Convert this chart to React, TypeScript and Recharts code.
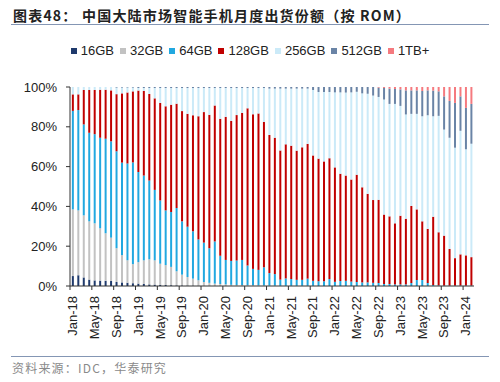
import React from 'react';
import { BarChart, Bar, XAxis, YAxis, Legend } from 'recharts';

const months = [
  'Jan-18','Feb-18','Mar-18','Apr-18','May-18','Jun-18','Jul-18','Aug-18','Sep-18','Oct-18','Nov-18','Dec-18',
  'Jan-19','Feb-19','Mar-19','Apr-19','May-19','Jun-19','Jul-19','Aug-19','Sep-19','Oct-19','Nov-19','Dec-19',
  'Jan-20','Feb-20','Mar-20','Apr-20','May-20','Jun-20','Jul-20','Aug-20','Sep-20','Oct-20','Nov-20','Dec-20',
  'Jan-21','Feb-21','Mar-21','Apr-21','May-21','Jun-21','Jul-21','Aug-21','Sep-21','Oct-21','Nov-21','Dec-21',
  'Jan-22','Feb-22','Mar-22','Apr-22','May-22','Jun-22','Jul-22','Aug-22','Sep-22','Oct-22','Nov-22','Dec-22',
  'Jan-23','Feb-23','Mar-23','Apr-23','May-23','Jun-23','Jul-23','Aug-23','Sep-23','Oct-23','Nov-23','Dec-23',
  'Jan-24','Feb-24',
];

const gb16 = [
  5.0,5.4,4.3,3.2,2.8,2.7,2.6,2.5,2.0,1.8,1.6,1.4,
  1.2,1.0,0.8,0.7,0.6,0.5,0.4,0.3,0.3,0.2,0.2,0.1,
  0.1,0.1,0,0,0,0,0,0,0,0,0,0,
  0,0,0,0,0,0,0,0,0,0,0,0,
  0,0,0,0,0,0,0,0,0,0,0,0,
  0,0,0,0,0,0,0,0,0,0,0,0,
  0,0,
];
const gb32 = [
  33.5,32.6,31.2,29.3,28.7,26.3,23.9,21.8,17.0,13.7,11.4,9.6,
  10.8,11.9,12.6,12.2,10.6,10.0,9.2,7.1,5.4,4.3,3.5,2.8,
  1.9,1.5,1.2,1.0,0.8,0.6,0.5,0.5,0.4,0.4,0.3,0.3,
  0.2,0.2,0.1,0.1,0.1,0.1,0.1,0.1,0.1,0,0,0,
  0,0,0,0,0,0,0,0,0,0,0,0,
  0,0,0,0,0,0,0,0,0,0,0,0,
  0,0,
];
const gb64 = [
  49.5,50.4,45.7,44.5,44.8,45.5,47.5,48.4,48.7,46.5,48.6,51.1,
  45.3,42.6,39.6,35.4,31.8,27.5,27.6,31.8,26.8,25.3,23.8,20.5,
  19.8,17.4,21.2,14.2,12.3,12.0,12.3,12.6,9.9,8.2,7.8,9.1,
  6.3,5.8,3.1,3.7,3.4,3.0,3.0,3.6,2.5,2.4,2.4,3.5,
  2.1,2.5,2.6,2.2,2.0,1.8,1.8,1.6,1.5,1.0,1.0,0.8,
  0.8,0.8,1.5,3.0,3.0,1.5,0.5,0.3,0.2,0.2,0.2,0.2,
  0.2,0.2,
];
const gb128 = [
  8.3,7.9,17.3,21.5,22.2,24.1,24.6,25.6,28.7,34.8,35.6,35.7,
  40.9,42.5,43.5,46.0,49.0,52.3,53.9,52.4,55.4,56.7,58.3,61.9,
  65.6,67.0,68.3,68.8,71.9,70.4,73.1,73.9,79.0,77.7,78.6,73.0,
  69.4,68.5,64.9,67.4,67.0,64.9,66.6,67.7,63.0,61.6,60.2,60.7,
  57.5,53.9,52.9,51.3,53.9,47.8,44.5,41.6,41.8,34.9,34.0,30.7,
  34.5,33.0,38.7,35.5,29.5,27.2,34.3,26.7,25.1,18.4,13.8,15.7,
  15.2,14.3,
];
const gb256 = [
  3.7,3.7,1.5,1.5,1.5,1.4,1.4,1.7,3.3,2.9,2.5,1.9,
  1.3,1.5,3.0,5.2,7.5,9.2,8.4,7.9,11.6,13.0,13.7,14.2,
  12.1,13.5,8.8,15.5,14.5,16.5,13.6,12.5,10.2,13.2,12.8,17.1,
  23.3,24.7,31.1,28.0,28.7,31.2,29.5,27.8,32.9,33.5,34.9,33.3,
  37.7,40.9,41.7,43.8,41.7,47.2,50.3,52.5,51.7,57.8,56.5,60.0,
  55.2,52.4,46.3,48.0,52.8,57.1,50.5,58.5,53.3,55.9,55.5,62.1,
  53.3,57.0,
];
const gb512 = [
  0,0,0,0,0,0,0,0,0.3,0.3,0.3,0.3,
  0.5,0.5,0.5,0.5,0.5,0.5,0.5,0.5,0.5,0.5,0.5,0.5,
  0.5,0.5,0.5,0.5,0.5,0.5,0.5,0.5,0.5,0.5,0.5,0.5,
  0.8,0.8,0.8,0.8,0.8,0.8,0.8,0.8,1.5,2.5,2.5,2.5,
  2.7,2.7,2.8,2.7,2.4,3.2,3.4,4.3,4.7,5.8,7.7,7.5,
  8.3,12.1,11.8,11.8,12.7,12.5,12.9,12.3,16.7,18.5,22.5,17.3,
  20.8,20.0,
];
const tb1 = [
  0,0,0,0,0,0,0,0,0,0,0,0,
  0,0,0,0,0,0,0,0,0,0,0,0,
  0,0,0,0,0,0,0,0,0,0,0,0,
  0,0,0,0,0,0,0,0,0,0,0,0,
  0,0,0,0,0,0,0,0,0.3,0.5,0.8,1.0,
  1.2,1.7,1.7,1.7,2.0,1.7,1.8,2.2,4.7,7.0,8.0,4.7,
  10.5,8.5,
];

const yTicks = [0, 20, 40, 60, 80, 100];

const seriesDefs = [
  { key: 's16', name: '16GB', color: '#1f3a6c', values: gb16 },
  { key: 's32', name: '32GB', color: '#c2c2c2', values: gb32 },
  { key: 's64', name: '64GB', color: '#21a8e0', values: gb64 },
  { key: 's128', name: '128GB', color: '#c00000', values: gb128 },
  { key: 's256', name: '256GB', color: '#cbeaf8', values: gb256 },
  { key: 's512', name: '512GB', color: '#6a84a6', values: gb512 },
  { key: 's1tb', name: '1TB+', color: '#f57a7f', values: tb1 },
];

const data = months.map((m, i) => {
  const row: any = { month: m };
  seriesDefs.forEach((s) => {
    row[s.key] = s.values[i];
  });
  return row;
});

const FONT = '"Liberation Sans", Arial, sans-serif';
const CJK = '"Noto Sans CJK SC", "Noto Sans", sans-serif';

const PLOT_LEFT = 70;
const PLOT_RIGHT = 474;
const PLOT_BOTTOM = 286;

const XTick = (props: any) => {
  const { x, payload } = props;
  const bw = (PLOT_RIGHT - PLOT_LEFT) / months.length;
  const tx = x - bw / 2;
  return (
    <g>
      <line x1={tx} x2={tx} y1={PLOT_BOTTOM} y2={PLOT_BOTTOM + 4} stroke="#333" strokeWidth={1} />
      <text
        transform={`translate(${x + 4.5},${PLOT_BOTTOM + 10}) rotate(-90)`}
        textAnchor="end"
        fontSize={13}
        fontFamily={FONT}
        fill="#222"
      >
        {payload.value}
      </text>
    </g>
  );
};

const renderLegend = (props: any) => {
  const payload = [...(props.payload || [])];
  const order = seriesDefs.map((s) => s.name);
  payload.sort((a: any, b: any) => order.indexOf(a.value) - order.indexOf(b.value));
  return (
    <div
      style={{
        display: 'flex',
        justifyContent: 'center',
        alignItems: 'center',
        fontFamily: FONT,
        fontSize: 13,
        color: '#222',
        whiteSpace: 'nowrap',
      }}
    >
      {payload.map((e: any, idx: number) => (
        <span
          key={e.value}
          style={{ display: 'inline-flex', alignItems: 'center', marginLeft: idx === 0 ? 0 : 6 }}
        >
          <span style={{ display: 'inline-block', width: 6, height: 6, background: e.color, marginRight: 4 }} />
          {e.value}
        </span>
      ))}
    </div>
  );
};

export default function App() {
  return (
    <div style={{ position: 'absolute', left: 0, top: 0, width: 500, height: 382, background: '#fff', overflow: 'hidden' }}>
      <div
        style={{
          position: 'absolute', left: 13, top: 5, fontFamily: CJK, fontWeight: 700, fontSize: 14,
          color: '#222', letterSpacing: 1.2, whiteSpace: 'nowrap', lineHeight: '20px',
        }}
      >
        图表48：
      </div>
      <div
        style={{
          position: 'absolute', left: 82, top: 5, fontFamily: CJK, fontWeight: 700, fontSize: 14,
          color: '#222', letterSpacing: 1.2, whiteSpace: 'nowrap', lineHeight: '20px',
        }}
      >
        中国大陆市场智能手机月度出货份额（按 ROM）
      </div>
      <div style={{ position: 'absolute', left: 11, top: 24, width: 478, height: 1, background: '#8496b4' }} />

      <div style={{ position: 'absolute', left: 0, top: 0 }}>
        <BarChart
          width={500}
          height={345}
          data={data}
          margin={{ top: 87, right: 500 - PLOT_RIGHT, left: 0, bottom: 9 }}
          barCategoryGap="34%"
        >
          <Legend
            verticalAlign="middle"
            align="center"
            layout="horizontal"
            content={renderLegend}
            wrapperStyle={{ position: 'absolute', top: 43, left: 0, width: 500, height: 18 }}
          />
          <XAxis
            dataKey="month"
            interval={3}
            height={50}
            axisLine={{ stroke: '#333' }}
            tickLine={false}
            tick={<XTick />}
          />
          <YAxis
            width={PLOT_LEFT}
            domain={[0, 100]}
            ticks={yTicks}
            allowDataOverflow
            tickFormatter={(v: number) => `${v}%`}
            axisLine={{ stroke: '#333' }}
            tickLine={{ stroke: '#333' }}
            tickSize={4}
            tickMargin={9}
            tick={{ fontSize: 13, fontFamily: FONT, fill: '#222' }}
          />
          {seriesDefs.map((s) => (
            <Bar
              key={s.key}
              dataKey={s.key}
              name={s.name}
              stackId="rom"
              fill={s.color}
              isAnimationActive={false}
            />
          ))}
        </BarChart>
      </div>

      <div style={{ position: 'absolute', left: 11, top: 356, width: 478, height: 1, background: '#8496b4' }} />
      <div
        style={{
          position: 'absolute', left: 12, top: 359, fontFamily: CJK, fontSize: 12, color: '#8a8a8a',
          letterSpacing: 1.2, whiteSpace: 'nowrap', lineHeight: '18px',
        }}
      >
        资料来源：IDC，华泰研究
      </div>
    </div>
  );
}
